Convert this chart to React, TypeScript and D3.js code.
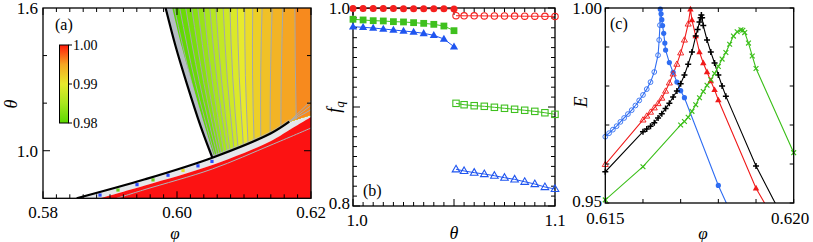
import React from 'react';
import * as d3 from 'd3';

const FONT = "'Liberation Serif','Times New Roman',Times,serif";

// ---------------- Panel (a) data ----------------
const aXTicks = d3.range(0, 21).map(i => 0.58 + i * 0.002);
const aXLabels = [0.58, 0.60, 0.62];
const aYTicks = [1.0, 1.2, 1.4];
const aYLabels = [1.0, 1.6];
const aLeftBoundary: number[][] = [[0.5983, 1.6], [0.59978, 1.44], [0.60145, 1.283], [0.60356, 1.10], [0.60527, 0.9707]];
const aLeftBandWidth = [0.0010, 0.0009, 0.0008, 0.0006, 0.0003];
const aLowerBoundary: number[][] = [[0.58503, 0.8], [0.59522, 0.8799], [0.60527, 0.9707], [0.61403, 1.0733], [0.61676, 1.122]];
const aLowerExtension: number[][] = [[0.62, 1.15]];
const aRedTop: number[][] = [[0.58851, 0.8], [0.59522, 0.8538], [0.60527, 0.94], [0.61403, 1.0409], [0.61676, 1.0871], [0.62, 1.1418]];
const aGrayBelow: number[][] = [[0.591, 0.8], [0.59522, 0.837], [0.60527, 0.9232], [0.61403, 1.024], [0.62, 1.0955]];
const aContourTop = [0.5996, 0.6004, 0.6013, 0.6022, 0.6031, 0.6040, 0.6049, 0.6058, 0.6069, 0.6079, 0.6090, 0.6101, 0.6113, 0.6127, 0.6142, 0.6158, 0.6176];
const aContourBottom = [0.6055, 0.6057, 0.6060, 0.6063, 0.6066, 0.6070, 0.6075, 0.6079, 0.6085, 0.6091, 0.6099, 0.6106, 0.6115, 0.6125, 0.6139, 0.6155, 0.6178];
const aBandLevels = [0.980, 0.9805, 0.981, 0.982, 0.983, 0.984, 0.985, 0.986, 0.987, 0.988, 0.989, 0.990, 0.991, 0.992, 0.993, 0.994, 0.995, 0.996];
const aFanEnds = [1.172, 1.19, 1.21];
const aStripDots = [0.58851, 0.59119, 0.59403, 0.59642, 0.59866, 0.60090, 0.60313, 0.60522];
const aStripDotColors = ['#2a4cff', '#6ad21e', '#2a4cff', '#6ad21e', '#2a4cff', '#e8e030', '#2a4cff', '#2a4cff'];
const colorbarStops = [0.98, 0.985, 0.99, 0.995, 1.0];
const colorbarColors = ['#5ad800', '#a8e61e', '#e8ea2c', '#f5a623', '#ff1a0a'];
const colorbarLabels = [1.0, 0.99, 0.98];

// ---------------- Panel (b) data ----------------
const bThetaFilled = [1.000, 1.005, 1.010, 1.015, 1.020, 1.025, 1.030, 1.035, 1.040, 1.045, 1.050];
const bThetaOpen = [1.051, 1.055, 1.060, 1.065, 1.070, 1.075, 1.080, 1.085, 1.090, 1.095, 1.100];
const bRedFilled = [0.9995, 0.9995, 0.9994, 0.9994, 0.9994, 0.9993, 0.9993, 0.9993, 0.9992, 0.9992, 0.9991];
const bRedOpen = [0.9922, 0.9921, 0.9921, 0.9920, 0.9919, 0.9919, 0.9918, 0.9917, 0.9917, 0.9916, 0.9915];
const bGreenFilled = [0.9886, 0.9879, 0.9872, 0.9869, 0.9862, 0.9859, 0.9852, 0.9845, 0.9835, 0.9818, 0.9771];
const bGreenOpen = [0.9037, 0.9023, 0.9013, 0.9007, 0.8997, 0.8987, 0.8977, 0.8967, 0.8956, 0.8942, 0.8926];
const bBlueFilled = [0.9811, 0.9805, 0.9798, 0.9788, 0.9778, 0.9768, 0.9758, 0.9744, 0.9724, 0.9687, 0.9609];
const bBlueOpen = [0.8371, 0.8354, 0.8337, 0.8323, 0.8306, 0.8286, 0.8269, 0.8245, 0.8222, 0.8192, 0.8172];
const bXTicks = d3.range(0, 21).map(i => 1.0 + i * 0.005);
const bYTicks = d3.range(0, 21).map(i => 0.8 + i * 0.01);

// ---------------- Panel (c) data ----------------
const cBlueLeftPhi = [0.6150, 0.6151, 0.6152, 0.6153, 0.6154, 0.6155, 0.6156, 0.6157, 0.6158, 0.6159, 0.6160, 0.6161, 0.6162, 0.6163, 0.6164, 0.61643, 0.61645];
const cBlueLeftE = [0.9670, 0.9679, 0.9688, 0.9697, 0.9708, 0.9718, 0.9728, 0.9738, 0.9750, 0.9763, 0.9777, 0.9792, 0.9810, 0.9836, 0.9879, 0.9918, 0.9956];
const cBlueRightPhi = [0.61646, 0.61648, 0.6165, 0.61652, 0.61655, 0.61658, 0.6166, 0.6167, 0.6168, 0.6169, 0.6170, 0.6171, 0.6180, 0.6190];
const cBlueRightE = [0.9997, 0.9985, 0.9970, 0.9955, 0.9935, 0.9910, 0.9892, 0.9860, 0.9835, 0.9810, 0.9788, 0.9770, 0.9545, 0.9333];
const cRedLeftPhi = [0.615, 0.616, 0.6161, 0.6162, 0.6163, 0.6164, 0.6165, 0.6166, 0.6167, 0.6168, 0.6169, 0.6170, 0.6171, 0.6172];
const cRedLeftE = [0.9599, 0.9713, 0.9723, 0.9733, 0.9744, 0.9755, 0.9769, 0.9787, 0.9808, 0.9831, 0.9856, 0.9885, 0.9918, 0.9959];
const cRedRightPhi = [0.61726, 0.6173, 0.6174, 0.6175, 0.6176, 0.6177, 0.6178, 0.6179, 0.6180, 0.6190, 0.6200];
const cRedRightE = [0.9997, 0.9969, 0.9928, 0.9887, 0.9859, 0.9836, 0.9813, 0.9790, 0.9764, 0.9538, 0.9370];
const cBlackLeftPhi = [0.615, 0.616, 0.6161, 0.6162, 0.6163, 0.6164, 0.6165, 0.6166, 0.6167, 0.6168, 0.6169, 0.6170, 0.6171, 0.6172, 0.6173, 0.6174, 0.61745, 0.6175, 0.61753];
const cBlackLeftE = [0.9580, 0.9683, 0.9690, 0.9697, 0.9706, 0.9718, 0.9729, 0.9742, 0.9756, 0.9772, 0.9787, 0.9806, 0.9828, 0.9856, 0.9887, 0.9928, 0.9945, 0.9964, 0.9975];
const cBlackRightPhi = [0.61755, 0.61757, 0.6176, 0.6177, 0.6178, 0.6179, 0.6180, 0.6181, 0.6182, 0.6190, 0.6200];
const cBlackRightE = [0.9982, 0.9975, 0.9955, 0.9918, 0.9887, 0.9859, 0.9828, 0.9800, 0.9774, 0.9595, 0.9408];
const cGreenLeftPhi = [0.615, 0.616, 0.617, 0.6171, 0.6172, 0.6173, 0.6174, 0.6175, 0.6176, 0.6177, 0.6178, 0.6179, 0.6180, 0.6181, 0.6182, 0.6183, 0.6184, 0.6185];
const cGreenLeftE = [0.9508, 0.9593, 0.9700, 0.9709, 0.9720, 0.9735, 0.9752, 0.9770, 0.9786, 0.9802, 0.9816, 0.9832, 0.9850, 0.9869, 0.9886, 0.9907, 0.9928, 0.9939];
const cGreenRightPhi = [0.6186, 0.61865, 0.6187, 0.6188, 0.6189, 0.6190, 0.6200];
const cGreenRightE = [0.9944, 0.9943, 0.9937, 0.9910, 0.9877, 0.9845, 0.9629];
const cXTicks = d3.range(0, 6).map(i => 0.615 + i * 0.001);
const cYTicks = d3.range(0, 6).map(i => 0.95 + i * 0.01);

// ---------------- scales ----------------
const xA = d3.scaleLinear().domain([0.58, 0.62]).range([43, 311]);
const yA = d3.scaleLinear().domain([0.8, 1.6]).range([198.3, 8]);
const xB = d3.scaleLinear().domain([1.0, 1.1]).range([353, 555]);
const yB = d3.scaleLinear().domain([0.8, 1.0]).range([206, 8]);
const xC = d3.scaleLinear().domain([0.615, 0.620]).range([605.3, 793.7]);
const yC = d3.scaleLinear().domain([0.95, 1.0]).range([203, 8]);
const yCb = d3.scaleLinear().domain([0.98, 1.0]).range([123, 45]);
const colorA = d3.scaleLinear<string>().domain(colorbarStops).range(colorbarColors);

const lineA = (curve: any) => d3.line<number[]>().x(d => xA(d[0])).y(d => yA(d[1])).curve(curve);
const pLin = (pts: number[][]) => lineA(d3.curveLinear)(pts) as string;
const pCR = (pts: number[][]) => lineA(d3.curveCatmullRom)(pts) as string;
const pNat = (pts: number[][]) => lineA(d3.curveNatural)(pts) as string;
const join = (...ps: string[]) => ps.map((p, i) => (i === 0 ? p : p.replace(/^M/, 'L'))).join('') + 'Z';

const lowerTheta = d3.scaleLinear()
  .domain([...aLowerBoundary, ...aLowerExtension].map(d => d[0]))
  .range([...aLowerBoundary, ...aLowerExtension].map(d => d[1]));
const redTopTheta = d3.scaleLinear().domain(aRedTop.map(d => d[0])).range(aRedTop.map(d => d[1]));

type Tick = { p: number; major: boolean };
function Frame({ x0, x1, y0, y1, xt, yt }: { x0: number; x1: number; y0: number; y1: number; xt: Tick[]; yt: Tick[] }) {
  const mi = 4, ma = 7;
  return (
    <g stroke="#000" strokeWidth={1}>
      {xt.map((t, i) => {
        const L = t.major ? ma : mi;
        return (
          <g key={'x' + i}>
            <line x1={t.p} x2={t.p} y1={y1} y2={y1 - L} />
            <line x1={t.p} x2={t.p} y1={y0} y2={y0 + L} />
          </g>
        );
      })}
      {yt.map((t, i) => {
        const L = t.major ? ma : mi;
        return (
          <g key={'y' + i}>
            <line x1={x0} x2={x0 + L} y1={t.p} y2={t.p} />
            <line x1={x1} x2={x1 - L} y1={t.p} y2={t.p} />
          </g>
        );
      })}
      <rect x={x0} y={y0} width={x1 - x0} height={y1 - y0} fill="none" strokeWidth={1.3} />
    </g>
  );
}

const tri = (cx: number, cy: number, r: number) =>
  `M${cx},${cy - r}L${cx + r * 0.95},${cy + r * 0.65}L${cx - r * 0.95},${cy + r * 0.65}Z`;

function PanelA() {
  const x0 = xA(0.58), x1 = xA(0.62), y0 = yA(1.6), y1 = yA(0.8);
  const lowerRight = aLowerBoundary.filter(p => p[0] >= 0.60527);
  const colored = join(
    pCR(aLeftBoundary),
    pCR(lowerRight),
    pLin([[0.61676, 1.122], ...aLowerExtension, [0.625, 1.15], [0.625, 1.7], [0.5975, 1.7]])
  );
  const redPoly = join(pCR(aRedTop), pLin([[0.62, 1.1418], [0.63, 1.1418], [0.63, 0.7], [0.58851, 0.7]]));
  const stripPoly = join(
    pCR(aLowerBoundary),
    pLin([[0.61676, 1.122], ...aLowerExtension, [0.63, 1.15], [0.63, 1.1418], [0.62, 1.1418]]),
    pCR([...aRedTop].reverse()),
    pLin([[0.58851, 0.78], [0.58503, 0.78]])
  );
  const n = aContourTop.length;
  const contourPts = aContourTop.map((t, i) => {
    const b = aContourBottom[i];
    const tb = lowerTheta(b);
    const bulge = 0.0003 * (1 - i / (n - 1)) + 0.00005;
    return [[t, 1.6], [(t + b) / 2 - bulge, (1.6 + tb) / 2], [b, tb]];
  });
  const leftBand = join(
    pCR(aLeftBoundary),
    pCR(aLeftBoundary.map((p, i) => [p[0] + aLeftBandWidth[i], p[1]]).reverse())
  );
  const lowerBand = join(pCR(lowerRight), pCR(lowerRight.map(p => [p[0], p[1] + 0.01]).reverse()));
  return (
    <g>
      <defs>
        <clipPath id="clipA"><rect x={x0} y={y0} width={x1 - x0} height={y1 - y0} /></clipPath>
        <clipPath id="clipColored"><path d={colored} /></clipPath>
        <linearGradient id="cbGrad" x1="0" y1="1" x2="0" y2="0">
          {colorbarStops.map((s, i) => (
            <stop key={i} offset={(s - 0.98) / 0.02} stopColor={colorbarColors[i]} />
          ))}
        </linearGradient>
      </defs>
      <g clipPath="url(#clipA)">
        <rect x={x0} y={y0} width={x1 - x0} height={y1 - y0} fill="#fff" />
        <path d={stripPoly} fill="#e4e7ea" />
        <path d={redPoly} fill="#fc1212" />
        {aStripDots.map((p, i) => {
          const th = (lowerTheta(p) + redTopTheta(p)) / 2;
          return <rect key={i} x={xA(p) - 1.6} y={yA(th) - 1.6} width={3.2} height={3.2} fill={aStripDotColors[i]} />;
        })}
        <path d={pCR(aGrayBelow)} fill="none" stroke="#b0b4b8" strokeWidth={1} />
        <g clipPath="url(#clipColored)">
          <rect x={x0} y={y0} width={x1 - x0} height={y1 - y0} fill={colorA(aBandLevels[0])} />
          {contourPts.map((pts, i) => {
            const t = pts[0][0], b = pts[2][0], tb = pts[2][1];
            const d = join(pNat(pts), pLin([[b, tb], [b, 0.7], [0.63, 0.7], [0.63, 1.7], [t, 1.7], [t, 1.6]]));
            return <path key={i} d={d} fill={colorA(aBandLevels[i + 1])} />;
          })}
          {contourPts.map((pts, i) => (
            <path key={'l' + i} d={pNat(pts)} fill="none" stroke="#a4a8ac" strokeWidth={1} />
          ))}
          <path d={leftBand} fill="#b6bdc5" />
          <path d={lowerBand} fill="#b6bdc5" opacity={0.6} />
        </g>
        {aFanEnds.map((e, i) => (
          <path key={i} d={pLin([[0.61676, 1.122], [0.62, e]])} fill="none" stroke="#a8acb0" strokeWidth={1} />
        ))}
        <path d={pCR(aLeftBoundary)} fill="none" stroke="#000" strokeWidth={2.2} />
        <path d={pCR(aLowerBoundary)} fill="none" stroke="#000" strokeWidth={2.2} />
      </g>
      <rect x={59.5} y={yCb(1.0)} width={9} height={yCb(0.98) - yCb(1.0)} fill="url(#cbGrad)" stroke="#000" strokeWidth={1} />
      {colorbarLabels.map((v, i) => (
        <g key={i}>
          <line x1={68.5} x2={72} y1={yCb(v)} y2={yCb(v)} stroke="#000" />
          <text x={73} y={yCb(v) + 5} fontSize={14} fontFamily={FONT}>{v.toFixed(2)}</text>
        </g>
      ))}
      <Frame
        x0={x0} x1={x1} y0={y0} y1={y1}
        xt={aXTicks.map((v, i) => ({ p: xA(v), major: i % 10 === 0 }))}
        yt={aYTicks.map(v => ({ p: yA(v), major: Math.abs(v - 1.0) < 1e-9 }))}
      />
      {aXLabels.map((v, i) => (
        <text key={i} x={xA(v)} y={218} textAnchor="middle" fontSize={17} fontFamily={FONT}>{v.toFixed(2)}</text>
      ))}
      {aYLabels.map((v, i) => (
        <text key={i} x={38} y={yA(v) + 6} textAnchor="end" fontSize={17} fontFamily={FONT}>{v.toFixed(1)}</text>
      ))}
      <text x={175} y={239} textAnchor="middle" fontSize={17} fontStyle="italic" fontFamily={FONT}>φ</text>
      <text transform="translate(17,104) rotate(-90)" textAnchor="middle" fontSize={18} fontStyle="italic" fontFamily={FONT}>θ</text>
      <text x={55} y={30} fontSize={16} fontFamily={FONT}>(a)</text>
    </g>
  );
}

function PanelB() {
  const x0 = xB(1.0), x1 = xB(1.1), y0 = yB(1.0), y1 = yB(0.8);
  const red = '#f5201e', green = '#3fc01e', blue = '#1f55f0';
  const ln = (xs: number[], ys: number[]) => d3.line<number>().x((_, i) => xB(xs[i])).y((_, i) => yB(ys[i]))(ys) as string;
  return (
    <g>
      <path d={ln(bThetaFilled, bRedFilled)} fill="none" stroke={red} strokeWidth={1} />
      <path d={ln(bThetaOpen, bRedOpen)} fill="none" stroke={red} strokeWidth={1} />
      <path d={ln(bThetaFilled, bGreenFilled)} fill="none" stroke={green} strokeWidth={1} />
      <path d={ln(bThetaOpen, bGreenOpen)} fill="none" stroke={green} strokeWidth={1} />
      <path d={ln(bThetaFilled, bBlueFilled)} fill="none" stroke={blue} strokeWidth={1} />
      <path d={ln(bThetaOpen, bBlueOpen)} fill="none" stroke={blue} strokeWidth={1} />
      <Frame
        x0={x0} x1={x1} y0={y0} y1={y1}
        xt={bXTicks.map((v, i) => ({ p: xB(v), major: i % 10 === 0 }))}
        yt={bYTicks.map((v, i) => ({ p: yB(v), major: i % 10 === 0 }))}
      />
      {bThetaFilled.map((t, i) => (
        <g key={'f' + i}>
          <circle cx={xB(t)} cy={yB(bRedFilled[i])} r={3.5} fill={red} />
          <rect x={xB(t) - 3.4} y={yB(bGreenFilled[i]) - 3.4} width={6.8} height={6.8} fill={green} />
          <path d={tri(xB(t), yB(bBlueFilled[i]), 4.3)} fill={blue} />
        </g>
      ))}
      {bThetaOpen.map((t, i) => (
        <g key={'o' + i} fill="none" strokeWidth={1.1}>
          <circle cx={xB(t)} cy={yB(bRedOpen[i])} r={3.2} stroke={red} />
          <rect x={xB(t) - 3.2} y={yB(bGreenOpen[i]) - 3.2} width={6.4} height={6.4} stroke={green} />
          <path d={tri(xB(t), yB(bBlueOpen[i]), 4.0)} stroke={blue} />
        </g>
      ))}
      <text x={350} y={yB(1.0) + 6} textAnchor="end" fontSize={17} fontFamily={FONT}>1.0</text>
      <text x={350} y={yB(0.8) + 3} textAnchor="end" fontSize={17} fontFamily={FONT}>0.8</text>
      <text x={xB(1.0) + 4} y={226} textAnchor="middle" fontSize={17} fontFamily={FONT}>1.0</text>
      <text x={xB(1.1)} y={226} textAnchor="middle" fontSize={17} fontFamily={FONT}>1.1</text>
      <text x={454} y={239} textAnchor="middle" fontSize={18} fontStyle="italic" fontFamily={FONT}>θ</text>
      <text transform="translate(340,107) rotate(-90)" textAnchor="middle" fontSize={18} fontStyle="italic" fontFamily={FONT}>
        f<tspan fontSize={13} dy={4}>q</tspan>
      </text>
      <text x={363} y={196} fontSize={16} fontFamily={FONT}>(b)</text>
    </g>
  );
}

function PanelC() {
  const x0 = xC(0.615), x1 = xC(0.620), y0 = yC(1.0), y1 = yC(0.95);
  const blue = '#2f6df2', red = '#f01a1a', green = '#3cbf1a', black = '#000';
  const ln = (xs: number[], ys: number[]) => d3.line<number>().x((_, i) => xC(xs[i])).y((_, i) => yC(ys[i]))(ys) as string;
  const inside = (p: number, e: number) => p >= 0.615 - 1e-9 && p <= 0.620 + 1e-9 && e >= 0.95 - 1e-9 && e <= 1.0 + 1e-9;
  const series = [
    { lp: cBlueLeftPhi, le: cBlueLeftE, rp: cBlueRightPhi, re: cBlueRightE, c: blue },
    { lp: cRedLeftPhi, le: cRedLeftE, rp: cRedRightPhi, re: cRedRightE, c: red },
    { lp: cBlackLeftPhi, le: cBlackLeftE, rp: cBlackRightPhi, re: cBlackRightE, c: black },
    { lp: cGreenLeftPhi, le: cGreenLeftE, rp: cGreenRightPhi, re: cGreenRightE, c: green },
  ];
  const blackPhi = [...cBlackLeftPhi, ...cBlackRightPhi];
  const blackE = [...cBlackLeftE, ...cBlackRightE];
  const greenPhi = [...cGreenLeftPhi, ...cGreenRightPhi];
  const greenE = [...cGreenLeftE, ...cGreenRightE];
  return (
    <g>
      <defs>
        <clipPath id="clipC"><rect x={x0} y={y0} width={x1 - x0} height={y1 - y0} /></clipPath>
      </defs>
      <g clipPath="url(#clipC)">
        {series.map((s, i) => (
          <path key={i} d={ln([...s.lp, ...s.rp], [...s.le, ...s.re])} fill="none" stroke={s.c} strokeWidth={1.1} />
        ))}
      </g>
      {cBlueLeftPhi.map((p, i) => inside(p, cBlueLeftE[i]) && (
        <circle key={'bl' + i} cx={xC(p)} cy={yC(cBlueLeftE[i])} r={2.4} fill="none" stroke={blue} strokeWidth={0.9} />
      ))}
      {cBlueRightPhi.map((p, i) => inside(p, cBlueRightE[i]) && (
        <circle key={'br' + i} cx={xC(p)} cy={yC(cBlueRightE[i])} r={2.6} fill={blue} />
      ))}
      {cRedLeftPhi.map((p, i) => inside(p, cRedLeftE[i]) && (
        <path key={'rl' + i} d={tri(xC(p), yC(cRedLeftE[i]), 3.2)} fill="none" stroke={red} strokeWidth={0.9} />
      ))}
      {cRedRightPhi.map((p, i) => inside(p, cRedRightE[i]) && (
        <path key={'rr' + i} d={tri(xC(p), yC(cRedRightE[i]), 3.4)} fill={red} />
      ))}
      {blackPhi.map((p, i) => {
        const e = blackE[i];
        if (!inside(p, e)) return null;
        const x = xC(p), y = yC(e);
        return <path key={'k' + i} d={`M${x - 3},${y}H${x + 3}M${x},${y - 3}V${y + 3}`} stroke={black} strokeWidth={1.5} />;
      })}
      {greenPhi.map((p, i) => {
        const e = greenE[i];
        if (!inside(p, e)) return null;
        const x = xC(p), y = yC(e), s = 2.4;
        return <path key={'g' + i} d={`M${x - s},${y - s}L${x + s},${y + s}M${x - s},${y + s}L${x + s},${y - s}`} stroke={green} strokeWidth={1.2} />;
      })}
      <Frame
        x0={x0} x1={x1} y0={y0} y1={y1}
        xt={cXTicks.map(v => ({ p: xC(v), major: false }))}
        yt={cYTicks.map(v => ({ p: yC(v), major: false }))}
      />
      <text x={602} y={yC(1.0) + 6} textAnchor="end" fontSize={17} fontFamily={FONT}>1.00</text>
      <text x={602} y={yC(0.95) + 4} textAnchor="end" fontSize={17} fontFamily={FONT}>0.95</text>
      <text x={xC(0.615)} y={224} textAnchor="middle" fontSize={17} fontFamily={FONT}>0.615</text>
      <text x={790} y={224} textAnchor="middle" fontSize={17} fontFamily={FONT}>0.620</text>
      <text x={703} y={239} textAnchor="middle" fontSize={17} fontStyle="italic" fontFamily={FONT}>φ</text>
      <text transform="translate(587,102) rotate(-90)" textAnchor="middle" fontSize={18} fontStyle="italic" fontFamily={FONT}>E</text>
      <text x={610} y={29} fontSize={16} fontFamily={FONT}>(c)</text>
    </g>
  );
}

export default function App() {
  return (
    <svg width={813} height={242} viewBox="0 0 813 242"
      style={{ position: 'absolute', left: 0, top: 0, background: '#fff' }}>
      <rect width={813} height={242} fill="#fff" />
      <PanelA />
      <PanelB />
      <PanelC />
    </svg>
  );
}
